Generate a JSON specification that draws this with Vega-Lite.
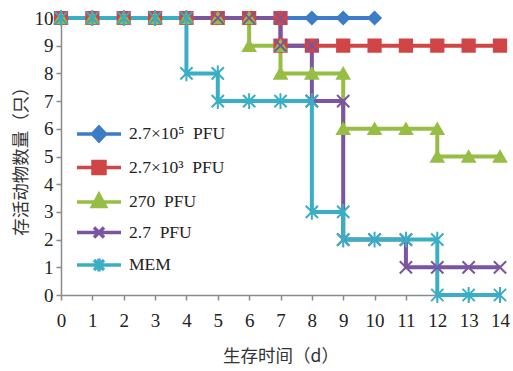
{
  "$schema": "https://vega.github.io/schema/vega-lite/v6.json",
  "width": 439,
  "height": 277,
  "autosize": {"type": "none"},
  "padding": {"left": 61, "top": 18, "right": 13, "bottom": 76},
  "background": "white",
  "config": {
    "view": {"stroke": null},
    "axis": {
      "grid": false,
      "domainColor": "#8a8a8a",
      "tickColor": "#8a8a8a",
      "domainWidth": 1.5,
      "tickWidth": 1.5,
      "tickSize": 5,
      "labelFont": "Liberation Serif",
      "labelFontSize": 19,
      "labelColor": "#222",
      "titleFont": "Noto Sans CJK SC",
      "titleFontWeight": "normal",
      "titleFontSize": 17.5,
      "titleColor": "#333"
    }
  },
  "data": {
    "values": [
      {"s": "A", "i": 0, "x": 0, "y": 10}, {"s": "A", "i": 1, "x": 1, "y": 10}, {"s": "A", "i": 2, "x": 2, "y": 10}, {"s": "A", "i": 3, "x": 3, "y": 10}, {"s": "A", "i": 4, "x": 4, "y": 10}, {"s": "A", "i": 5, "x": 5, "y": 10}, {"s": "A", "i": 6, "x": 6, "y": 10}, {"s": "A", "i": 7, "x": 7, "y": 10}, {"s": "A", "i": 8, "x": 8, "y": 10}, {"s": "A", "i": 9, "x": 9, "y": 10}, {"s": "A", "i": 10, "x": 10, "y": 10},
      {"s": "B", "i": 0, "x": 0, "y": 10}, {"s": "B", "i": 1, "x": 1, "y": 10}, {"s": "B", "i": 2, "x": 2, "y": 10}, {"s": "B", "i": 3, "x": 3, "y": 10}, {"s": "B", "i": 4, "x": 4, "y": 10}, {"s": "B", "i": 5, "x": 5, "y": 10}, {"s": "B", "i": 6, "x": 6, "y": 10}, {"s": "B", "i": 7, "x": 7, "y": 10}, {"s": "B", "i": 8, "x": 7, "y": 9}, {"s": "B", "i": 9, "x": 8, "y": 9}, {"s": "B", "i": 10, "x": 9, "y": 9}, {"s": "B", "i": 11, "x": 10, "y": 9}, {"s": "B", "i": 12, "x": 11, "y": 9}, {"s": "B", "i": 13, "x": 12, "y": 9}, {"s": "B", "i": 14, "x": 13, "y": 9}, {"s": "B", "i": 15, "x": 14, "y": 9},
      {"s": "C", "i": 0, "x": 0, "y": 10}, {"s": "C", "i": 1, "x": 1, "y": 10}, {"s": "C", "i": 2, "x": 2, "y": 10}, {"s": "C", "i": 3, "x": 3, "y": 10}, {"s": "C", "i": 4, "x": 4, "y": 10}, {"s": "C", "i": 5, "x": 5, "y": 10}, {"s": "C", "i": 6, "x": 6, "y": 10}, {"s": "C", "i": 7, "x": 6, "y": 9}, {"s": "C", "i": 8, "x": 7, "y": 9}, {"s": "C", "i": 9, "x": 7, "y": 8}, {"s": "C", "i": 10, "x": 8, "y": 8}, {"s": "C", "i": 11, "x": 9, "y": 8}, {"s": "C", "i": 12, "x": 9, "y": 6}, {"s": "C", "i": 13, "x": 10, "y": 6}, {"s": "C", "i": 14, "x": 11, "y": 6}, {"s": "C", "i": 15, "x": 12, "y": 6}, {"s": "C", "i": 16, "x": 12, "y": 5}, {"s": "C", "i": 17, "x": 13, "y": 5}, {"s": "C", "i": 18, "x": 14, "y": 5},
      {"s": "D", "i": 0, "x": 0, "y": 10}, {"s": "D", "i": 1, "x": 1, "y": 10}, {"s": "D", "i": 2, "x": 2, "y": 10}, {"s": "D", "i": 3, "x": 3, "y": 10}, {"s": "D", "i": 4, "x": 4, "y": 10}, {"s": "D", "i": 5, "x": 5, "y": 10}, {"s": "D", "i": 6, "x": 6, "y": 10}, {"s": "D", "i": 7, "x": 7, "y": 10}, {"s": "D", "i": 8, "x": 7, "y": 9}, {"s": "D", "i": 9, "x": 8, "y": 9}, {"s": "D", "i": 10, "x": 8, "y": 7}, {"s": "D", "i": 11, "x": 9, "y": 7}, {"s": "D", "i": 12, "x": 9, "y": 2}, {"s": "D", "i": 13, "x": 10, "y": 2}, {"s": "D", "i": 14, "x": 11, "y": 2}, {"s": "D", "i": 15, "x": 11, "y": 1}, {"s": "D", "i": 16, "x": 12, "y": 1}, {"s": "D", "i": 17, "x": 13, "y": 1}, {"s": "D", "i": 18, "x": 14, "y": 1},
      {"s": "E", "i": 0, "x": 0, "y": 10}, {"s": "E", "i": 1, "x": 1, "y": 10}, {"s": "E", "i": 2, "x": 2, "y": 10}, {"s": "E", "i": 3, "x": 3, "y": 10}, {"s": "E", "i": 4, "x": 4, "y": 10}, {"s": "E", "i": 5, "x": 4, "y": 8}, {"s": "E", "i": 6, "x": 5, "y": 8}, {"s": "E", "i": 7, "x": 5, "y": 7}, {"s": "E", "i": 8, "x": 6, "y": 7}, {"s": "E", "i": 9, "x": 7, "y": 7}, {"s": "E", "i": 10, "x": 8, "y": 7}, {"s": "E", "i": 11, "x": 8, "y": 3}, {"s": "E", "i": 12, "x": 9, "y": 3}, {"s": "E", "i": 13, "x": 9, "y": 2}, {"s": "E", "i": 14, "x": 10, "y": 2}, {"s": "E", "i": 15, "x": 11, "y": 2}, {"s": "E", "i": 16, "x": 12, "y": 2}, {"s": "E", "i": 17, "x": 12, "y": 0}, {"s": "E", "i": 18, "x": 13, "y": 0}, {"s": "E", "i": 19, "x": 14, "y": 0}
    ]
  },
  "transform": [
    {"lookup": "s", "from": {"data": {"values": [
      {"s": "A", "series": "2.7×10⁵\u00a0 PFU"},
      {"s": "B", "series": "2.7×10³\u00a0 PFU"},
      {"s": "C", "series": "270\u00a0 PFU"},
      {"s": "D", "series": "2.7\u00a0 PFU"},
      {"s": "E", "series": "MEM"}
    ]}, "key": "s", "fields": ["series"]}}
  ],
  "encoding": {
    "x": {
      "field": "x", "type": "quantitative",
      "scale": {"domain": [0, 14], "nice": false},
      "axis": {"values": [0,1,2,3,4,5,6,7,8,9,10,11,12,13,14], "title": "生存时间（d）", "labelPadding": 11, "titlePadding": 17, "labelFlush": false}
    },
    "y": {
      "field": "y", "type": "quantitative",
      "scale": {"domain": [0, 10], "nice": false},
      "axis": {"values": [0,1,2,3,4,5,6,7,8,9,10], "title": "存活动物数量（只）", "labelPadding": 3, "titlePadding": 4}
    }
  },
  "layer": [
    {
      "mark": {"type": "line", "strokeWidth": 4},
      "encoding": {
        "color": {
          "field": "series", "type": "nominal",
          "scale": {"domain": ["2.7×10⁵\u00a0 PFU", "2.7×10³\u00a0 PFU", "270\u00a0 PFU", "2.7\u00a0 PFU", "MEM"], "range": ["#3D7CC6", "#D04545", "#96BE45", "#7A55A0", "#3AAEC4"]},
          "legend": {
            "title": null,
            "orient": "none",
            "legendX": 14,
            "legendY": 104,
            "labelFont": "Liberation Serif",
            "labelFontSize": 17.5,
            "labelColor": "#222",
            "labelOffset": 30,
            "symbolSize": 400,
            "symbolStrokeWidth": 3.5,
            "symbolOpacity": 1,
            "rowPadding": 6.5,
            "encode": {
              "symbols": {
                "update": {
                  "shape": {"signal": "['M-1,0H3.4M0.55,0L1.2,-0.7L1.85,0L1.2,0.7Z','M-1,0H3.4M0.6,-0.6H1.8V0.6H0.6Z','M-1,0H3.4M1.2,-0.75L1.85,0.45H0.55Z','M-1,0H3.4M0.7,-0.5L1.7,0.5M0.7,0.5L1.7,-0.5','M-1,0H3.4M0.7,-0.5L1.7,0.5M0.7,0.5L1.7,-0.5M1.2,-0.65V0.65'][datum.index]"},
                  "strokeWidth": {"value": 3.5},
                  "fill": {"scale": "color", "field": "value"},
                  "stroke": {"scale": "color", "field": "value"}
                }
              }
            }
          }
        },
        "order": {"field": "i", "type": "quantitative"}
      }
    },
    {
      "mark": {"type": "point", "filled": true, "size": 150, "strokeWidth": 2, "opacity": 1},
      "encoding": {
        "color": {"field": "series", "type": "nominal"},
        "stroke": {
          "field": "s", "type": "nominal", "legend": null,
          "scale": {"domain": ["A", "B", "C", "D", "E"], "range": ["#3D7CC6", "#D04545", "#96BE45", "#7A55A0", "#3AAEC4"]}
        },
        "shape": {
          "field": "s", "type": "nominal", "legend": null,
          "scale": {"domain": ["A", "B", "C", "D", "E"], "range": ["diamond", "square", "triangle-up", "M-1,-1L1,1M-1,1L1,-1", "M-1,-1L1,1M-1,1L1,-1M0,-1.3V1.3"]}
        }
      }
    }
  ]
}
